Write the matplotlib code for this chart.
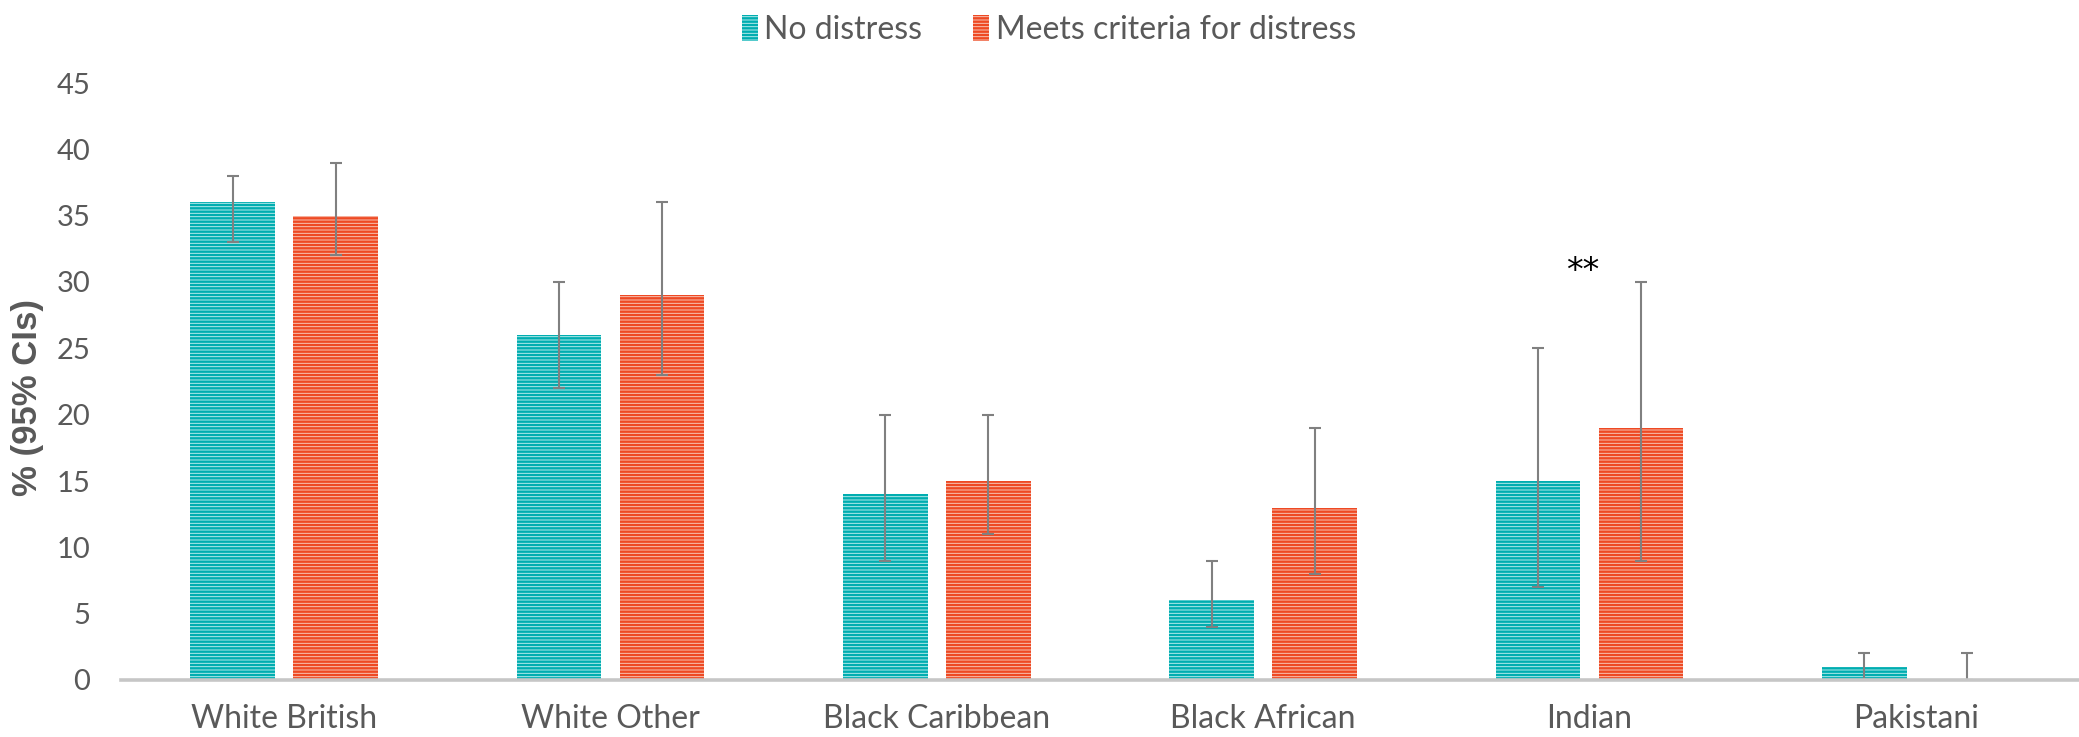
import matplotlib
matplotlib.use("Agg")
import matplotlib.pyplot as plt
from matplotlib.patches import Patch
import numpy as np

# Data: percentage with 95% confidence interval bounds
categories = ["White British", "White Other", "Black Caribbean",
              "Black African", "Indian", "Pakistani"]
no_distress = [36, 26, 14, 6, 15, 1]
no_distress_lo = [33, 22, 9, 4, 7, 0]
no_distress_hi = [38, 30, 20, 9, 25, 2]
distress = [35, 29, 15, 13, 19, 0]
distress_lo = [32, 23, 11, 8, 9, 0]
distress_hi = [39, 36, 20, 19, 30, 2]
series_labels = ["No distress", "Meets criteria for distress"]
yticks = [0, 5, 10, 15, 20, 25, 30, 35, 40, 45]
significance = {"Indian": "**"}

TEXT = "#595959"
TEAL_DARK, TEAL_LIGHT = "#00ADB0", "#BDEEEE"
RED_DARK, RED_LIGHT = "#EE4923", "#F9CBBD"

plt.rcParams["font.family"] = ["Lato", "DejaVu Sans"]
plt.rcParams["hatch.linewidth"] = 1.75

fig = plt.figure(figsize=(20.79, 7.37), dpi=100)
ax = fig.add_axes([121 / 2079, 57 / 737, 1958 / 2079, 597 / 737])

x = np.arange(len(categories))
width = 0.26
offset = 0.1576


def draw_series(xpos, vals, lo, hi, dark, light):
    ax.bar(xpos, vals, width, facecolor=light, edgecolor=dark,
           hatch="-----", linewidth=0, zorder=2)
    vals = np.asarray(vals, float)
    yerr = np.vstack([vals - np.asarray(lo), np.asarray(hi) - vals])
    ax.errorbar(xpos, vals, yerr=yerr, fmt="none", ecolor="#808080",
                elinewidth=1.5, capsize=4.2, capthick=1.5, zorder=3)


draw_series(x - offset, no_distress, no_distress_lo, no_distress_hi,
            TEAL_DARK, TEAL_LIGHT)
draw_series(x + offset, distress, distress_lo, distress_hi,
            RED_DARK, RED_LIGHT)

for name, mark in significance.items():
    i = categories.index(name)
    ax.text(i - 0.02, 30.8, mark, ha="center", va="center",
            fontsize=24, color="black", family=["DejaVu Sans"])

ax.set_xlim(-0.5, len(categories) - 0.5)
ax.set_ylim(0, 45)
ax.set_yticks(yticks)
ax.set_xticks(x)
ax.set_xticklabels(categories)
ax.tick_params(axis="y", length=0, pad=22, labelsize=21, labelcolor=TEXT)
ax.tick_params(axis="x", length=0, pad=17, labelsize=23, labelcolor=TEXT)
for side in ["top", "right", "left"]:
    ax.spines[side].set_visible(False)
ax.spines["bottom"].set_color("#C6C6C6")
ax.spines["bottom"].set_linewidth(2.6)
ax.spines["bottom"].set_zorder(4)

fig.text(28 / 2079, 1 - 398 / 737, "% (95% CIs)", rotation=90,
         ha="center", va="center", fontsize=25, fontweight="bold",
         color=TEXT, family=["Liberation Sans", "DejaVu Sans"])

handles = [
    Patch(facecolor=TEAL_LIGHT, edgecolor=TEAL_DARK, hatch="-----", linewidth=0),
    Patch(facecolor=RED_LIGHT, edgecolor=RED_DARK, hatch="-----", linewidth=0),
]
fig.legend(handles, series_labels, loc="center", ncol=2,
           bbox_to_anchor=(1049 / 2079, 1 - 30 / 737), frameon=False,
           fontsize=23, labelcolor=TEXT, handlelength=0.5, handleheight=0.9,
           handletextpad=0.2, columnspacing=1.6)

fig.savefig("out.png", dpi=100)
